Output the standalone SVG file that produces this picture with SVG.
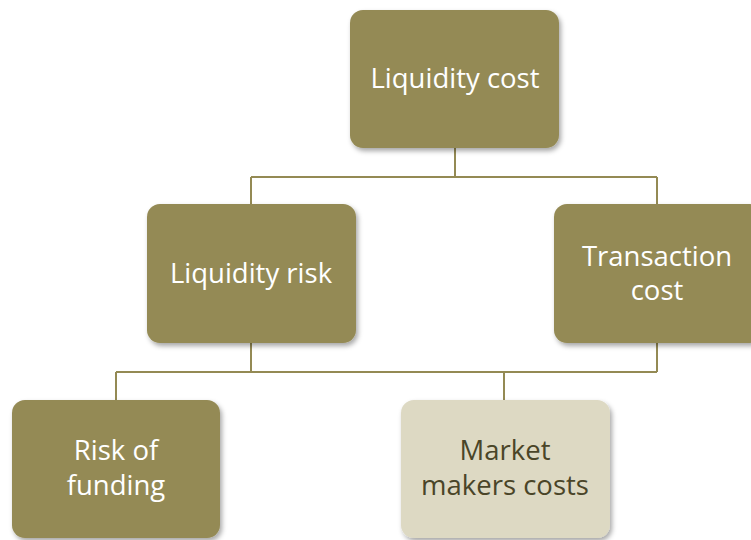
<svg xmlns="http://www.w3.org/2000/svg" width="751" height="540" viewBox="0 0 751 540">
  <defs>
    <filter id="shadow" x="-10%" y="-10%" width="125%" height="130%">
      <feDropShadow dx="2" dy="3" stdDeviation="2.5" flood-color="#000" flood-opacity="0.35"/>
    </filter>
  </defs>
  <style>
    .box { fill: #948a54; filter: url(#shadow); }
    .box-light { fill: #ddd9c3; filter: url(#shadow); }
    .label { font-family: "Open Sans", "Liberation Sans", sans-serif; font-size: 27.5px; fill: #ffffff; text-anchor: middle; }
    .label-dark { fill: #4a4528; }
    .link { fill: none; stroke: #948a54; stroke-width: 2; }
  </style>
  <rect width="751" height="540" fill="#ffffff"/>

  <g id="connectors">
    <path class="link" d="M455 148 V177 M251 177 H657 M251 177 V204 M657 177 V204"/>
    <path class="link" d="M251 343 V372 M657 343 V372 M116 372 H657 M116 372 V400 M504 372 V400"/>
  </g>

  <g id="liquidity-cost">
    <rect class="box" x="350" y="10" width="209" height="138" rx="13"/>
    <text class="label" x="455" y="88">Liquidity cost</text>
  </g>

  <g id="liquidity-risk">
    <rect class="box" x="147" y="204" width="209" height="139" rx="13"/>
    <text class="label" x="251" y="283">Liquidity risk</text>
  </g>

  <g id="transaction-cost">
    <rect class="box" x="554" y="204" width="209" height="139" rx="13"/>
    <text class="label" x="657" y="266">Transaction</text>
    <text class="label" x="657" y="300">cost</text>
  </g>

  <g id="risk-of-funding">
    <rect class="box" x="12" y="400" width="208" height="138" rx="13"/>
    <text class="label" x="116" y="460">Risk of</text>
    <text class="label" x="116" y="495">funding</text>
  </g>

  <g id="market-makers-costs">
    <rect class="box-light" x="401" y="400" width="209" height="138" rx="13"/>
    <text class="label label-dark" x="505" y="460">Market</text>
    <text class="label label-dark" x="505" y="495">makers costs</text>
  </g>
</svg>
